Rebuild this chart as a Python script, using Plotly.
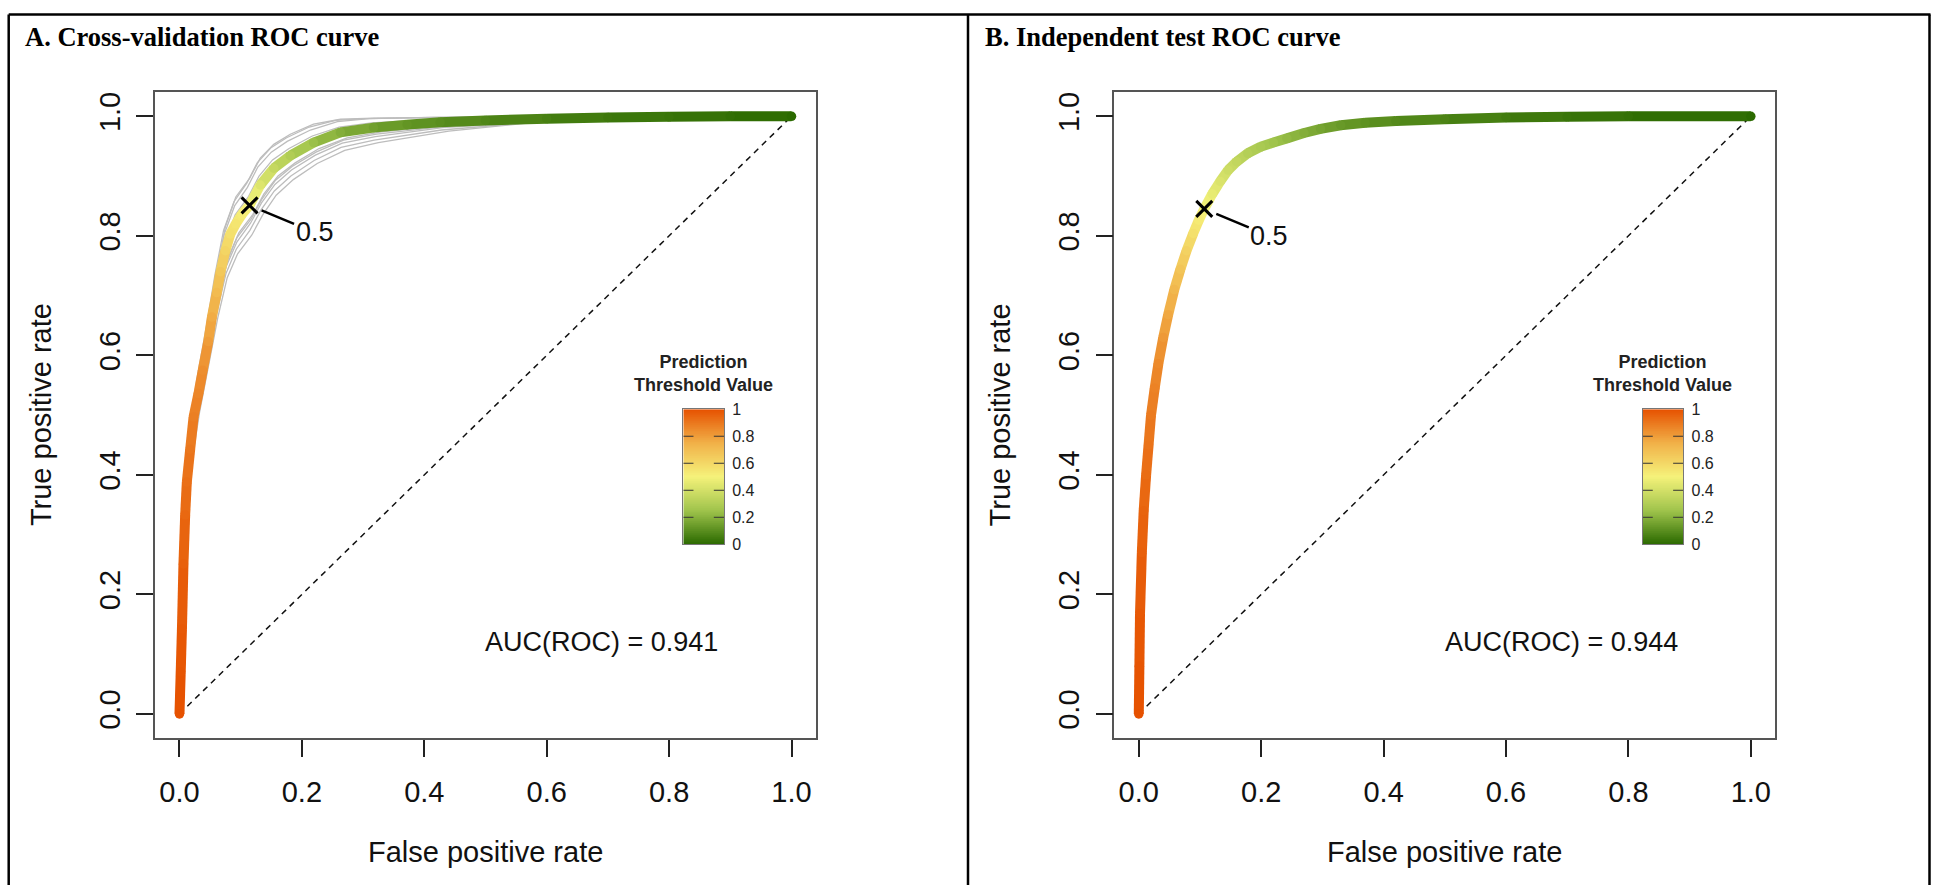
import plotly.graph_objects as go
import numpy as np

# ---------------- data ----------------
cv_fpr = [0.000, 0.002, 0.004, 0.0065, 0.0093, 0.012, 0.0175, 0.023, 0.031, 0.038, 0.047, 0.053,
          0.061, 0.067, 0.075, 0.083, 0.092, 0.102, 0.1145, 0.132, 0.154, 0.181, 0.219, 0.263,
          0.317, 0.372, 0.426, 0.50, 0.60, 0.70, 0.80, 0.90, 1.00]
cv_tpr = [0.000, 0.070, 0.142, 0.251, 0.333, 0.388, 0.443, 0.497, 0.536, 0.575, 0.623, 0.664,
          0.705, 0.740, 0.775, 0.803, 0.820, 0.836, 0.851, 0.885, 0.913, 0.934, 0.956, 0.973,
          0.981, 0.986, 0.990, 0.993, 0.996, 0.998, 0.999, 1.000, 1.000]
cv_thr = [1.00, 0.99, 0.98, 0.96, 0.94, 0.92, 0.90, 0.88, 0.86, 0.84, 0.80, 0.76,
          0.71, 0.66, 0.61, 0.57, 0.55, 0.52, 0.50, 0.43, 0.36, 0.30, 0.24, 0.19,
          0.15, 0.12, 0.10, 0.08, 0.06, 0.04, 0.03, 0.015, 0.00]

# individual cross-validation folds (grey curves)
fold_fpr = [
    [0, 0.004, 0.0093, 0.0175, 0.031, 0.047, 0.061, 0.075, 0.092, 0.1145, 0.132, 0.154, 0.181, 0.219, 0.263, 0.317, 0.426, 0.60, 1.0],
    [0, 0.005, 0.0100, 0.0190, 0.033, 0.049, 0.063, 0.078, 0.095, 0.1180, 0.136, 0.158, 0.186, 0.225, 0.270, 0.325, 0.440, 0.58, 1.0],
    [0, 0.003, 0.0085, 0.0165, 0.029, 0.045, 0.059, 0.073, 0.090, 0.1110, 0.128, 0.150, 0.176, 0.214, 0.258, 0.310, 0.415, 0.55, 1.0],
    [0, 0.004, 0.0095, 0.0180, 0.032, 0.048, 0.062, 0.076, 0.094, 0.1160, 0.134, 0.156, 0.183, 0.222, 0.266, 0.320, 0.430, 0.61, 1.0],
    [0, 0.004, 0.0090, 0.0170, 0.030, 0.046, 0.060, 0.074, 0.091, 0.1130, 0.130, 0.152, 0.179, 0.217, 0.261, 0.314, 0.420, 0.57, 1.0],
    [0, 0.005, 0.0105, 0.0195, 0.034, 0.050, 0.064, 0.079, 0.097, 0.1200, 0.138, 0.161, 0.189, 0.228, 0.274, 0.330, 0.450, 0.62, 1.0],
    [0, 0.003, 0.0080, 0.0160, 0.028, 0.044, 0.058, 0.072, 0.089, 0.1100, 0.127, 0.149, 0.175, 0.212, 0.255, 0.305, 0.410, 0.54, 1.0],
    [0, 0.004, 0.0095, 0.0178, 0.031, 0.047, 0.061, 0.076, 0.093, 0.1150, 0.133, 0.155, 0.182, 0.220, 0.264, 0.318, 0.428, 0.59, 1.0],
    [0, 0.004, 0.0092, 0.0173, 0.031, 0.047, 0.061, 0.075, 0.092, 0.1140, 0.131, 0.153, 0.180, 0.218, 0.262, 0.316, 0.424, 0.60, 1.0],
    [0, 0.005, 0.0098, 0.0185, 0.032, 0.048, 0.062, 0.077, 0.094, 0.1170, 0.135, 0.157, 0.184, 0.223, 0.268, 0.322, 0.435, 0.56, 1.0],
]
fold_tpr = [
    [0, 0.160, 0.360, 0.470, 0.563, 0.655, 0.741, 0.815, 0.865, 0.896, 0.930, 0.953, 0.970, 0.987, 0.995, 0.997, 0.998, 0.999, 1.0],
    [0, 0.122, 0.303, 0.413, 0.506, 0.588, 0.665, 0.730, 0.770, 0.801, 0.835, 0.868, 0.894, 0.921, 0.943, 0.956, 0.975, 0.990, 1.0],
    [0, 0.154, 0.351, 0.461, 0.554, 0.644, 0.729, 0.802, 0.850, 0.881, 0.915, 0.940, 0.958, 0.977, 0.991, 0.996, 0.998, 0.999, 1.0],
    [0, 0.130, 0.315, 0.425, 0.518, 0.602, 0.681, 0.748, 0.790, 0.821, 0.855, 0.886, 0.910, 0.935, 0.955, 0.966, 0.981, 0.992, 1.0],
    [0, 0.148, 0.342, 0.452, 0.545, 0.634, 0.717, 0.789, 0.835, 0.866, 0.900, 0.927, 0.946, 0.967, 0.982, 0.989, 0.995, 0.998, 1.0],
    [0, 0.136, 0.324, 0.434, 0.527, 0.613, 0.693, 0.762, 0.805, 0.836, 0.870, 0.900, 0.922, 0.946, 0.964, 0.974, 0.986, 0.994, 1.0],
    [0, 0.157, 0.355, 0.465, 0.558, 0.649, 0.735, 0.809, 0.857, 0.888, 0.922, 0.947, 0.964, 0.982, 0.993, 0.996, 0.998, 0.999, 1.0],
    [0, 0.125, 0.308, 0.418, 0.511, 0.593, 0.671, 0.737, 0.778, 0.809, 0.843, 0.875, 0.900, 0.926, 0.948, 0.960, 0.977, 0.991, 1.0],
    [0, 0.144, 0.336, 0.446, 0.539, 0.627, 0.709, 0.780, 0.825, 0.856, 0.890, 0.918, 0.938, 0.959, 0.976, 0.984, 0.992, 0.997, 1.0],
    [0, 0.133, 0.320, 0.430, 0.522, 0.607, 0.687, 0.755, 0.797, 0.828, 0.862, 0.893, 0.916, 0.940, 0.960, 0.970, 0.983, 0.993, 1.0],
]

test_fpr = [0.000, 0.001, 0.002, 0.005, 0.008, 0.012, 0.016, 0.020, 0.026, 0.032, 0.040, 0.048,
            0.058, 0.068, 0.078, 0.089, 0.098, 0.107, 0.120, 0.133, 0.146, 0.160, 0.178, 0.199,
            0.220, 0.242, 0.270, 0.297, 0.330, 0.370, 0.420, 0.500, 0.600, 0.700, 0.800, 1.000]
test_tpr = [0.000, 0.080, 0.168, 0.270, 0.340, 0.400, 0.450, 0.500, 0.545, 0.586, 0.630, 0.668,
            0.710, 0.744, 0.775, 0.804, 0.826, 0.845, 0.870, 0.891, 0.910, 0.924, 0.938, 0.949,
            0.956, 0.963, 0.972, 0.979, 0.985, 0.989, 0.992, 0.995, 0.998, 0.999, 1.000, 1.000]
test_thr = [1.00, 0.99, 0.98, 0.96, 0.95, 0.93, 0.91, 0.89, 0.87, 0.85, 0.81, 0.77,
            0.72, 0.67, 0.62, 0.57, 0.53, 0.50, 0.46, 0.42, 0.38, 0.35, 0.31, 0.28,
            0.25, 0.22, 0.19, 0.16, 0.13, 0.11, 0.09, 0.07, 0.05, 0.03, 0.02, 0.00]

cut_value = 0.5
cv_cut = (0.1145, 0.851)
test_cut = (0.107, 0.845)
auc_cv = 0.941
auc_test = 0.944
titles = ["A. Cross-validation ROC curve", "B. Independent test ROC curve"]
tick_vals = [0, 0.2, 0.4, 0.6, 0.8, 1.0]
tick_text = ["0.0", "0.2", "0.4", "0.6", "0.8", "1.0"]
cbar_vals = [0, 0.2, 0.4, 0.6, 0.8, 1]
cbar_text = ["0", "0.2", "0.4", "0.6", "0.8", "1"]

# ---------------- styling ----------------
W, H = 1937, 894
SANS = "Liberation Sans, Arial, sans-serif"
SERIF = "Liberation Serif, Times New Roman, serif"
stops = [(0.0, (0x2b, 0x6a, 0x00)), (0.25, (0xa0, 0xc4, 0x4c)), (0.5, (0xf5, 0xf2, 0x7a)),
         (0.75, (0xf1, 0xb0, 0x48)), (1.0, (0xe6, 0x51, 0x00))]
colorscale = [[s, "rgb(%d,%d,%d)" % c] for s, c in stops]


def col(v):
    v = min(max(v, 0), 1)
    for (s0, c0), (s1, c1) in zip(stops[:-1], stops[1:]):
        if v <= s1:
            t = (v - s0) / (s1 - s0) if s1 > s0 else 0
            return "rgb(%d,%d,%d)" % tuple(round(a + (b - a) * t) for a, b in zip(c0, c1))
    return "rgb(%d,%d,%d)" % stops[-1][1]


def px_x(p):
    return p / W


def px_y(p):
    return 1 - p / H


panel_left = [155.0, 1114.3]
box_w, box_top, box_bot = 661.0, 86.0, 744.0

fig = go.Figure()

axis_common = dict(range=[-0.04, 1.04], tickvals=tick_vals, ticktext=tick_text, ticks="outside",
                   ticklen=17, tickwidth=1.5, tickcolor="#222", showline=True, linecolor="#555",
                   linewidth=1.5, mirror=True, showgrid=False, zeroline=False,
                   tickfont=dict(family=SANS, size=29, color="#111"))

layout = dict(width=W, height=H, margin=dict(l=0, r=0, t=0, b=0), plot_bgcolor="white",
              paper_bgcolor="white", showlegend=False)

for i in range(2):
    xl = panel_left[i]
    n = 2 * i + 1
    xa = "xaxis" if n == 1 else "xaxis%d" % n
    ya = "yaxis" if n == 1 else "yaxis%d" % n
    layout[xa] = dict(axis_common, domain=[px_x(xl), px_x(xl + box_w)], anchor="y" if n == 1 else "y%d" % n,
                      ticklabelstandoff=11)
    layout[ya] = dict(axis_common, domain=[px_y(box_bot), px_y(box_top)], anchor="x" if n == 1 else "x%d" % n,
                      tickangle=-90, ticklabelstandoff=5)
    # colour bar axes
    m = n + 1
    cx0 = xl + 528.3
    layout["xaxis%d" % m] = dict(domain=[px_x(cx0), px_x(cx0 + 40.7)], range=[0, 1], anchor="y%d" % m,
                                 showticklabels=False, ticks="", showgrid=False, zeroline=False,
                                 showline=True, linecolor="#777", linewidth=1, mirror=True)
    layout["yaxis%d" % m] = dict(domain=[px_y(546.7), px_y(409)], range=[0, 1], anchor="x%d" % m,
                                 side="right", tickvals=cbar_vals, ticktext=cbar_text, ticks="",
                                 showgrid=False, zeroline=False, showline=True, linecolor="#777",
                                 linewidth=1, mirror=True, ticklabelstandoff=4,
                                 tickfont=dict(family=SANS, size=16, color="#222"))

fig.update_layout(**layout)

curves = [(cv_fpr, cv_tpr, cv_thr, cv_cut, auc_cv), (test_fpr, test_tpr, test_thr, test_cut, auc_test)]
for i, (fx, ty, th, cut, auc) in enumerate(curves):
    n = 2 * i + 1
    xr = "x" if n == 1 else "x%d" % n
    yr = "y" if n == 1 else "y%d" % n
    # diagonal
    fig.add_trace(go.Scatter(x=[0, 1], y=[0, 1], mode="lines", xaxis=xr, yaxis=yr,
                             line=dict(color="#111", width=1.5, dash="6px,5px"), hoverinfo="skip"))
    if i == 0:
        for ffx, fty in zip(fold_fpr, fold_tpr):
            fig.add_trace(go.Scatter(x=ffx, y=fty, mode="lines", xaxis=xr, yaxis=yr,
                                     line=dict(color="#bdbdbd", width=1.3), hoverinfo="skip"))
    # coloured ROC curve: segments + round joins
    for k in range(len(fx) - 1):
        fig.add_trace(go.Scatter(x=[fx[k], fx[k + 1]], y=[ty[k], ty[k + 1]], mode="lines",
                                 xaxis=xr, yaxis=yr, hoverinfo="skip",
                                 line=dict(color=col((th[k] + th[k + 1]) / 2), width=10)))
    fig.add_trace(go.Scatter(x=fx, y=ty, mode="markers", xaxis=xr, yaxis=yr, hoverinfo="skip",
                             marker=dict(size=9.5, color=th, colorscale=colorscale, cmin=0, cmax=1,
                                         line=dict(width=0))))
    # cutoff marker
    fig.add_trace(go.Scatter(x=[cut[0]], y=[cut[1]], mode="markers", xaxis=xr, yaxis=yr,
                             marker=dict(symbol="x-thin", size=16, line=dict(width=3, color="black")),
                             hoverinfo="skip"))
    fig.add_annotation(x=cut[0], y=cut[1], xref=xr, yref=yr, text=str(cut_value), showarrow=True,
                       arrowhead=0, arrowwidth=2.5, arrowcolor="black", ax=65, ay=27, standoff=13,
                       font=dict(family=SANS, size=27, color="#111"))
    fig.add_annotation(x=0.69, y=0.121, xref=xr, yref=yr, text="AUC(ROC) = %.3f" % auc, showarrow=False,
                       xanchor="center", yanchor="middle", font=dict(family=SANS, size=27, color="#111"))
    # colour bar
    m = n + 1
    lev = np.linspace(0, 1, 201)
    fig.add_trace(go.Heatmap(z=[[v] for v in (lev[:-1] + lev[1:]) / 2], x=[0, 1], y=lev,
                             xaxis="x%d" % m, yaxis="y%d" % m, colorscale=colorscale, zmin=0, zmax=1,
                             showscale=False, hoverinfo="skip"))
    tx, tyv = [], []
    for v in cbar_vals[1:-1]:
        tx += [0, 0.25, None, 0.75, 1, None]
        tyv += [v, v, None, v, v, None]
    fig.add_trace(go.Scatter(x=tx, y=tyv, mode="lines", xaxis="x%d" % m, yaxis="y%d" % m,
                             line=dict(color="#333", width=1), hoverinfo="skip"))
    xl = panel_left[i]
    fig.add_annotation(x=px_x(xl + 548), y=px_y(372.5), xref="paper", yref="paper",
                       text="<b>Prediction</b><br><b>Threshold Value</b>", showarrow=False,
                       xanchor="center", yanchor="middle", align="center",
                       font=dict(family=SANS, size=18, color="#222"))
    # axis titles
    fig.add_annotation(x=px_x(xl + box_w / 2), y=px_y(860), xref="paper", yref="paper",
                       text="False positive rate", showarrow=False, xanchor="center", yanchor="middle",
                       font=dict(family=SANS, size=29, color="#111"))
    fig.add_annotation(x=px_x(xl - 114), y=px_y((box_top + box_bot) / 2), xref="paper", yref="paper",
                       text="True positive rate", showarrow=False, textangle=-90, xanchor="center",
                       yanchor="middle", font=dict(family=SANS, size=29, color="#111"))
    # panel title
    fig.add_annotation(x=px_x([23.0, 983.3][i]), y=px_y(30), xref="paper", yref="paper",
                       text="<b>%s</b>" % titles[i], showarrow=False, xanchor="left", yanchor="middle",
                       font=dict(family=SERIF, size=26.5, color="black"))

# outer frame lines
frame = [(8.7, 6.5, 1930.5, 6.5), (8.7, 6.5, 8.7, 894), (968, 6.5, 968, 894), (1929.5, 6.5, 1929.5, 894)]
for x0, y0, x1, y1 in frame:
    fig.add_shape(type="line", xref="paper", yref="paper", x0=px_x(x0), y0=px_y(y0), x1=px_x(x1),
                  y1=px_y(y1), line=dict(color="black", width=2.5))

fig.write_html("out.html")
